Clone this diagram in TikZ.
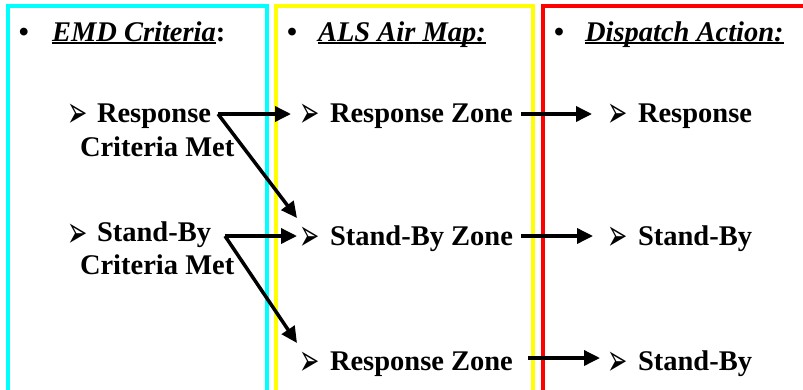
\documentclass[tikz,border=0pt]{standalone}
\usepackage{fontspec}
\setmainfont{Liberation Serif}
\newfontfamily\dejavu{DejaVu Sans}
\usetikzlibrary{arrows.meta}
\newcommand\myul[1]{\setbox0\hbox{#1}\rlap{\rule[-2.8pt]{\wd0}{1.5pt}}\box0}
\newcommand\arrbul{\raisebox{-5pt}{\scalebox{1.1}[2.0]{➢}}}
\definecolor{framecyan}{RGB}{0,255,255}
\definecolor{frameyellow}{RGB}{255,255,0}
\definecolor{framered}{RGB}{255,0,0}
\begin{document}
\begin{tikzpicture}[x=1pt,y=-1pt,
  txt/.style={inner sep=0pt,outer sep=0pt,anchor=base west,font=\fontsize{28.5}{32}\selectfont\bfseries},
  bul/.style={inner sep=0pt,outer sep=0pt,anchor=base west,font=\dejavu\fontsize{22}{26}\selectfont},
  conn/.style={line width=3.5pt,-{Triangle[length=16pt,width=15pt]}},
  frame/.style={line width=4pt}]
\useasboundingbox (0,0) rectangle (803,389);
\clip (0,0) rectangle (803,389);
% frames
\draw[frame,framecyan] (8,400) -- (8,6) -- (267,6) -- (267,400);
\draw[frame,frameyellow] (276,400) -- (276,6) -- (533,6) -- (533,400);
\draw[frame,framered] (543,400) -- (543,6) -- (815,6) -- (815,400);
% headers
\node[txt] (hb1) at (19,41) {•};
\node[txt] (h1) at (52,41) {\itshape\myul{EMD Criteria}\upshape:};
\node[txt] (hb2) at (287,41) {•};
\node[txt] (h2) at (318,41) {\itshape\myul{ALS Air Map:}};
\node[txt] (hb3) at (554,41) {•};
\node[txt] (h3) at (585,41) {\itshape\myul{Dispatch Action:}};
% left column
\node[bul] (lm1) at (67,122) {\arrbul};
\node[txt] (l1a) at (97,122) {Response};
\node[txt] (l1b) at (80,156) {Criteria Met};
\node[bul] (lm2) at (67,242) {\arrbul};
\node[txt] (l2a) at (97,241) {Stand-By};
\node[txt] (l2b) at (80,274) {Criteria Met};
% middle column
\node[bul] (mm1) at (299,122) {\arrbul};
\node[txt] (m1) at (330,122) {Response Zone};
\node[bul] (mm2) at (299,245) {\arrbul};
\node[txt] (m2) at (330,245) {Stand-By Zone};
\node[bul] (mm3) at (299,370) {\arrbul};
\node[txt] (m3) at (330,370) {Response Zone};
% right column
\node[bul] (rm1) at (607,122) {\arrbul};
\node[txt] (r1) at (638,122) {Response};
\node[bul] (rm2) at (607,245) {\arrbul};
\node[txt] (r2) at (638,245) {Stand-By};
\node[bul] (rm3) at (607,370) {\arrbul};
\node[txt] (r3) at (638,370) {Stand-By};
% connector points
\coordinate (s1) at (218,114);
\coordinate (s2) at (225,236);
\coordinate (t1) at (291,114);
\coordinate (t2) at (297,218);
\coordinate (t3) at (297,236);
\coordinate (t4) at (297,343);
\coordinate (s5) at (521,114);
\coordinate (t5) at (592,114);
\coordinate (s6) at (521,236);
\coordinate (t6) at (593,236);
\coordinate (s7) at (528,358);
\coordinate (t7) at (600,358);
% connectors
\draw[conn] (s1) -- (t1);
\draw[conn] (s1) -- (t2);
\draw[conn] (s2) -- (t3);
\draw[conn] (s2) -- (t4);
\draw[conn] (s5) -- (t5);
\draw[conn] (s6) -- (t6);
\draw[conn] (s7) -- (t7);
\end{tikzpicture}
\end{document}
